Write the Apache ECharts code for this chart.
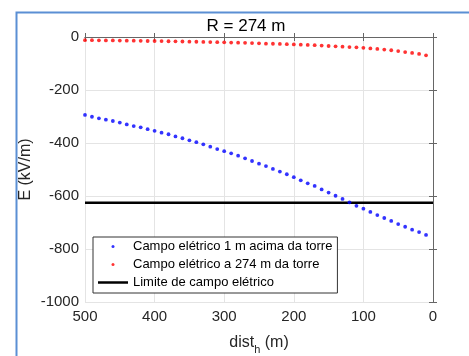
<!DOCTYPE html>
<html>
<head>
<meta charset="utf-8">
<script src="https://cdn.jsdelivr.net/npm/echarts@6/dist/echarts.min.js"></script>
<style>
  html, body { margin: 0; padding: 0; background: #fff; }
  #chart { width: 469px; height: 356px; }
</style>
</head>
<body>
<div id="chart"></div>
<script>
// distância horizontal (m)
const dist = [500, 490, 480, 470, 460, 450, 440, 430, 420, 410,
              400, 390, 380, 370, 360, 350, 340, 330, 320, 310,
              300, 290, 280, 270, 260, 250, 240, 230, 220, 210,
              200, 190, 180, 170, 160, 150, 140, 130, 120, 110,
              100, 90, 80, 70, 60, 50, 40, 30, 20, 10];
// campo elétrico 1 m acima da torre (kV/m)
const campoAcima = [-294, -301, -307, -312, -317, -323, -330, -336, -341, -348,
                    -354, -361, -367, -375, -382, -390, -397, -405, -414, -423,
                    -431, -439, -448, -458, -468, -478, -487, -498, -508, -518,
                    -529, -541, -552, -562, -575, -587, -599, -611, -624, -637,
                    -648, -660, -672, -683, -694, -706, -716, -727, -736, -747];
// campo elétrico a 274 m da torre (kV/m)
const campoDist = [-12, -12, -12.5, -13, -13, -13.5, -14, -14, -14.5, -15,
                   -15, -15.5, -16, -16.5, -17, -17.5, -18, -18.5, -19, -19.5,
                   -20, -21, -21.5, -22, -23, -24, -25, -25.5, -26, -27,
                   -28, -29, -30, -31, -32.5, -34, -35, -36.5, -38, -39,
                   -41, -43, -45, -47.5, -50, -53, -57, -60, -64, -69];
const limite = -625;
const limiteX = [500, 0];
const xTicks = [500, 400, 300, 200, 100, 0];
const yTicks = [0, -200, -400, -600, -800, -1000];
const legendNames = ['Campo elétrico 1 m acima da torre', 'Campo elétrico a 274 m da torre', 'Limite de campo elétrico'];

const font = 'Liberation Sans, Arial, Helvetica, sans-serif';
const axisCol = '#666666';
const txtCol = '#262626';

const chart = echarts.init(document.getElementById('chart'), null, { renderer: 'canvas' });

const baseX = {
  type: 'value', min: 0, max: 500, interval: 100, inverse: true
};
const baseY = {
  type: 'value', min: -1000, max: 0, interval: 200
};

chart.setOption({
  animation: false,
  backgroundColor: '#ffffff',
  graphic: [{
    type: 'rect', left: 14, top: 10, silent: true,
    shape: { width: 500, height: 400 },
    style: { fill: 'none', stroke: '#5b8fd4', lineWidth: 2 }
  }],
  title: {
    text: 'R = 274 m', left: 246, top: 18, textAlign: 'center', padding: 0,
    textStyle: { fontFamily: font, fontSize: 17, fontWeight: 'normal', color: '#000' }
  },
  grid: { left: 85, right: 36, top: 37, bottom: 54, containLabel: false, outerBoundsMode: 'none' },
  xAxis: [
    Object.assign({}, baseX, {
      position: 'bottom',
      name: '{a|dist}{s|h}{a| (m)}', nameLocation: 'middle', nameGap: 33, nameMoveOverlap: false,
      nameTextStyle: {
        fontFamily: font, color: txtCol,
        rich: {
          a: { fontFamily: font, fontSize: 16, color: txtCol, verticalAlign: 'top', lineHeight: 18 },
          s: { fontFamily: font, fontSize: 11, color: txtCol, verticalAlign: 'top', lineHeight: 12, padding: [9, 0, 0, 0] }
        }
      },
      axisLine: { show: true, lineStyle: { color: axisCol, width: 1 } },
      axisTick: { show: true, inside: true, length: 4, lineStyle: { color: axisCol } },
      axisLabel: {
        margin: 7, fontFamily: font, fontSize: 15, color: txtCol,
        formatter: v => xTicks.includes(v) ? String(v) : ''
      },
      splitLine: { show: true, lineStyle: { color: '#e4e4e4', width: 1 } }
    }),
    Object.assign({}, baseX, {
      position: 'top',
      axisLine: { show: true, lineStyle: { color: axisCol, width: 1 } },
      axisTick: { show: true, inside: true, length: 4, lineStyle: { color: axisCol } },
      axisLabel: { show: false },
      splitLine: { show: false }
    })
  ],
  yAxis: [
    Object.assign({}, baseY, {
      position: 'left',
      name: 'E (kV/m)', nameLocation: 'middle', nameGap: 51, nameRotate: 90, nameMoveOverlap: false,
      nameTextStyle: { fontFamily: font, fontSize: 16, color: txtCol },
      axisLine: { show: true, lineStyle: { color: axisCol, width: 1 } },
      axisTick: { show: true, inside: true, length: 4, lineStyle: { color: axisCol } },
      axisLabel: {
        margin: 6, fontFamily: font, fontSize: 15, color: txtCol,
        formatter: v => yTicks.includes(v) ? String(v) : ''
      },
      splitLine: { show: true, lineStyle: { color: '#e4e4e4', width: 1 } }
    }),
    Object.assign({}, baseY, {
      position: 'right',
      axisLine: { show: true, lineStyle: { color: axisCol, width: 1 } },
      axisTick: { show: true, inside: true, length: 4, lineStyle: { color: axisCol } },
      axisLabel: { show: false },
      splitLine: { show: false }
    })
  ],
  legend: {
    orient: 'vertical', left: 93, top: 237,
    padding: [2, 5, 3, 5],
    itemWidth: 30, itemHeight: 3, itemGap: 3,
    backgroundColor: '#ffffff', borderColor: '#333333', borderWidth: 1, borderRadius: 0,
    textStyle: { fontFamily: font, fontSize: 13, color: '#000', lineHeight: 15 },
    data: [
      { name: legendNames[0], icon: 'circle' },
      { name: legendNames[1], icon: 'circle' },
      { name: legendNames[2], icon: 'path://M0,0 h30 v2.5 h-30 z', itemStyle: { color: '#000000' } }
    ]
  },
  series: [
    {
      name: legendNames[0], type: 'scatter', symbol: 'circle', symbolSize: 3.8,
      itemStyle: { color: '#0000ff' },
      data: dist.map((d, i) => [d, campoAcima[i]]), z: 3
    },
    {
      name: legendNames[1], type: 'scatter', symbol: 'circle', symbolSize: 3.8,
      itemStyle: { color: '#ff0000' },
      data: dist.map((d, i) => [d, campoDist[i]]), z: 3
    },
    {
      name: legendNames[2], type: 'line', symbol: 'none', showSymbol: false,
      lineStyle: { color: '#000000', width: 2.5 }, itemStyle: { color: '#000000' },
      data: limiteX.map(x => [x, limite]), z: 2
    }
  ]
});
</script>
</body>
</html>
